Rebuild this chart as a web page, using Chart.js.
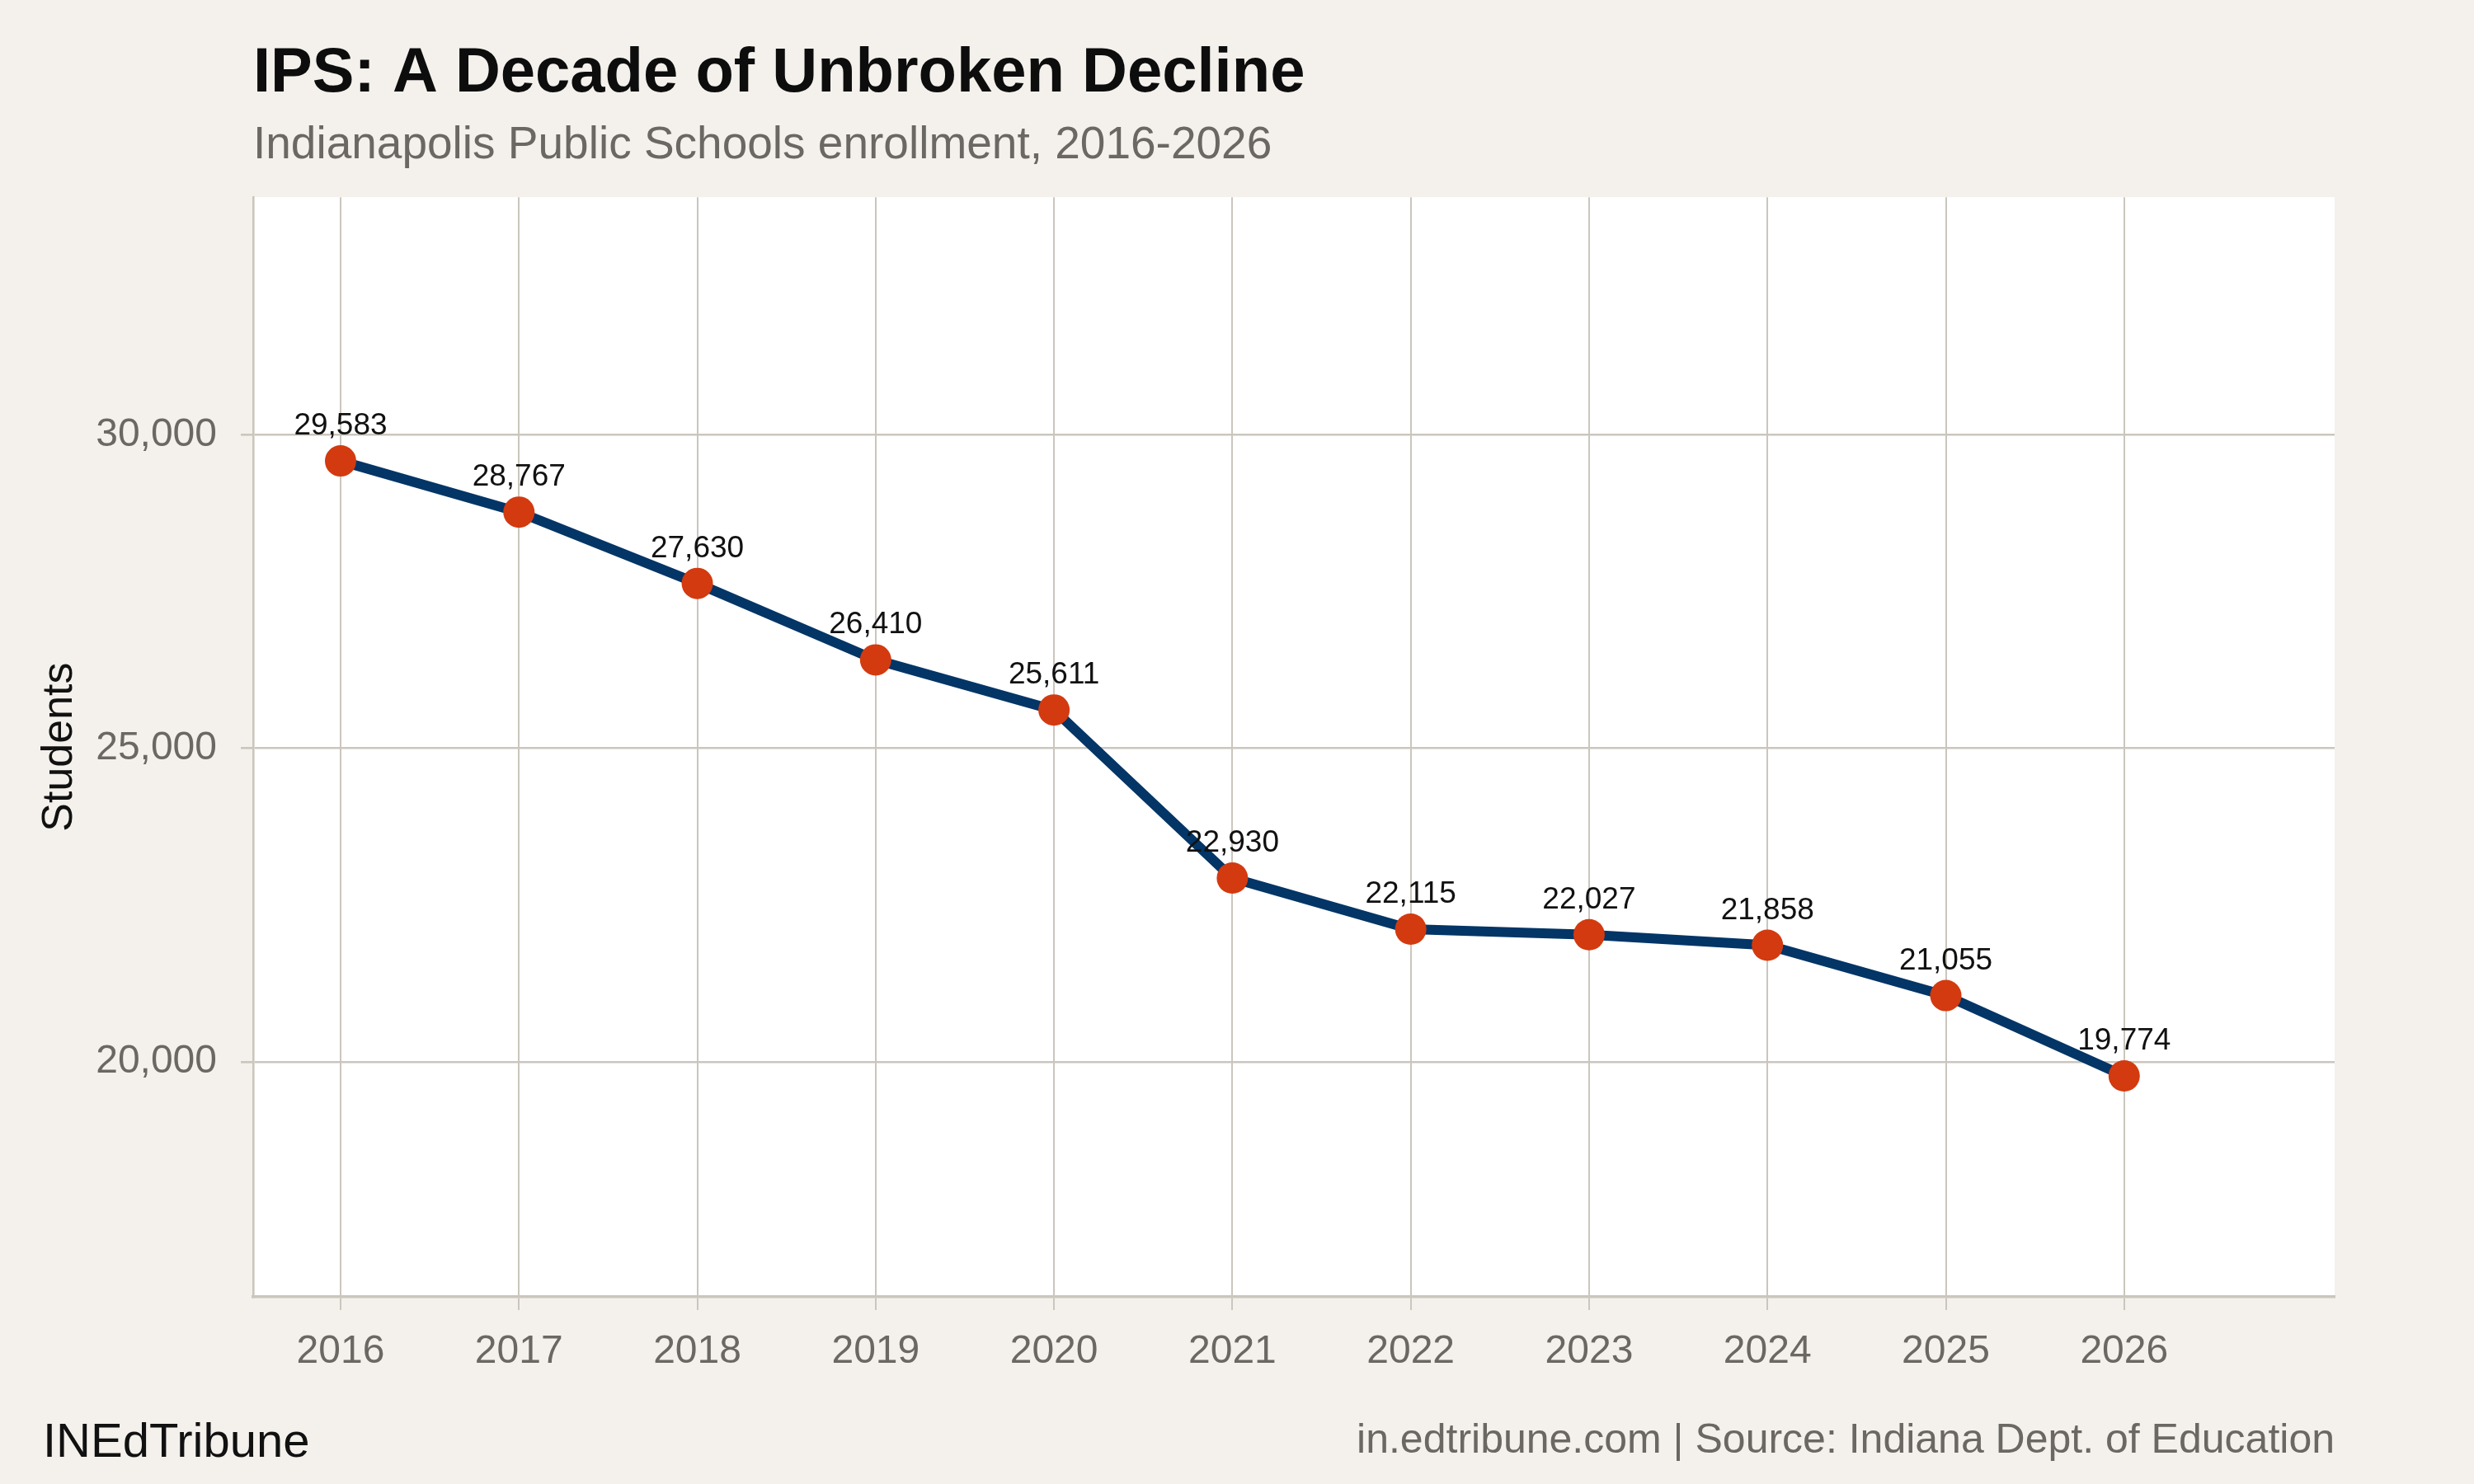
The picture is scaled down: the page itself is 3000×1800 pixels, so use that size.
<!DOCTYPE html>
<html>
<head>
<meta charset="utf-8">
<script src="https://cdn.jsdelivr.net/npm/chart.js@4"></script>
<style>
  html, body { margin: 0; padding: 0; background: #f4f1ec; }
  #wrap { width: 3000px; height: 1800px; position: relative; }
</style>
</head>
<body>
<div id="wrap"><canvas id="ipsChart"></canvas></div>
<script>
// --- data ---
const years = [2016, 2017, 2018, 2019, 2020, 2021, 2022, 2023, 2024, 2025, 2026];
const students = [29583, 28767, 27630, 26410, 25611, 22930, 22115, 22027, 21858, 21055, 19774];
const yTickValues = [20000, 25000, 30000];
const xTickValues = years;

const BG = '#f4f1ec';
const GRID = '#cbc6bd';
const TICK_TXT = '#6b6863';
const FONT = '"Liberation Sans", Arial, Helvetica, sans-serif';

// white panel behind the plot
const panelBg = {
  id: 'panelBg',
  beforeDraw(chart) {
    const { ctx, chartArea: a } = chart;
    ctx.save();
    ctx.fillStyle = BG;
    ctx.fillRect(0, 0, chart.width, chart.height);
    ctx.fillStyle = '#ffffff';
    ctx.fillRect(a.left, a.top, a.right - a.left, a.bottom - a.top);
    ctx.restore();
  }
};

// value labels above points + footer
const extras = {
  id: 'extras',
  afterDatasetsDraw(chart) {
    const { ctx } = chart;
    const meta = chart.getDatasetMeta(0);
    ctx.save();
    ctx.font = '37px ' + FONT;
    ctx.fillStyle = '#111111';
    ctx.textAlign = 'center';
    ctx.textBaseline = 'alphabetic';
    meta.data.forEach((pt, i) => {
      ctx.fillText(students[i].toLocaleString('en-US'), pt.x, pt.y - 32);
    });
    ctx.restore();
  },
  afterDraw(chart) {
    const { ctx, chartArea: a } = chart;
    ctx.save();
    ctx.textBaseline = 'alphabetic';
    ctx.font = '58px ' + FONT;
    ctx.fillStyle = '#111111';
    ctx.textAlign = 'left';
    ctx.fillText('INEdTribune', 52, 1767);
    ctx.font = '50px ' + FONT;
    ctx.fillStyle = TICK_TXT;
    ctx.textAlign = 'right';
    ctx.fillText('in.edtribune.com | Source: Indiana Dept. of Education', a.right, 1762);
    ctx.restore();
  }
};

new Chart(document.getElementById('ipsChart'), {
  type: 'line',
  data: {
    datasets: [{
      data: years.map((y, i) => ({ x: y, y: students[i] })),
      borderColor: '#033566',
      borderWidth: 12,
      pointBackgroundColor: '#d33a0f',
      pointBorderWidth: 0,
      pointRadius: 19,
      pointHoverRadius: 19,
      tension: 0,
      clip: false
    }]
  },
  options: {
    responsive: true,
    maintainAspectRatio: false,
    devicePixelRatio: 1,
    animation: false,
    layout: { padding: { top: 0, left: 0, right: 169, bottom: 0 } },
    plugins: {
      legend: { display: false },
      tooltip: { enabled: false },
      title: {
        display: true,
        text: 'IPS: A Decade of Unbroken Decline',
        align: 'start',
        fullSize: false,
        color: '#0d0d0d',
        font: { family: FONT, size: 76, weight: 'bold', lineHeight: 1.2 },
        padding: { top: 44, bottom: 0 }
      },
      subtitle: {
        display: true,
        text: 'Indianapolis Public Schools enrollment, 2016-2026',
        align: 'start',
        fullSize: false,
        color: TICK_TXT,
        font: { family: FONT, size: 55, lineHeight: 1.2 },
        padding: { top: 9, bottom: 29 }
      }
    },
    scales: {
      x: {
        type: 'linear',
        min: 2015.51,
        max: 2027.18,
        afterBuildTicks(scale) { scale.ticks = xTickValues.map(v => ({ value: v })); },
        afterFit(scale) { scale.height = 227; },
        grid: { color: GRID, lineWidth: 2, tickLength: 16, tickColor: GRID, tickWidth: 2 },
        border: { display: true, color: GRID, width: 3.5 },
        ticks: {
          color: TICK_TXT,
          font: { family: FONT, size: 48 },
          padding: 22,
          maxRotation: 0,
          autoSkip: false,
          callback: v => String(v)
        }
      },
      y: {
        min: 16250,
        max: 33790,
        afterBuildTicks(scale) { scale.ticks = yTickValues.map(v => ({ value: v })); },
        afterFit(scale) { scale.width = 307; },
        grid: { color: GRID, lineWidth: 2.6, tickLength: 15, tickColor: GRID, tickWidth: 2.6 },
        border: { display: true, color: GRID, width: 2.6 },
        title: {
          display: true,
          text: 'Students',
          color: '#111111',
          font: { family: FONT, size: 52, lineHeight: 1.2 },
          padding: { top: 41, bottom: 0 }
        },
        ticks: {
          color: TICK_TXT,
          font: { family: FONT, size: 48 },
          padding: 29,
          callback: v => v.toLocaleString('en-US')
        }
      }
    }
  },
  plugins: [panelBg, extras]
});
</script>
</body>
</html>
